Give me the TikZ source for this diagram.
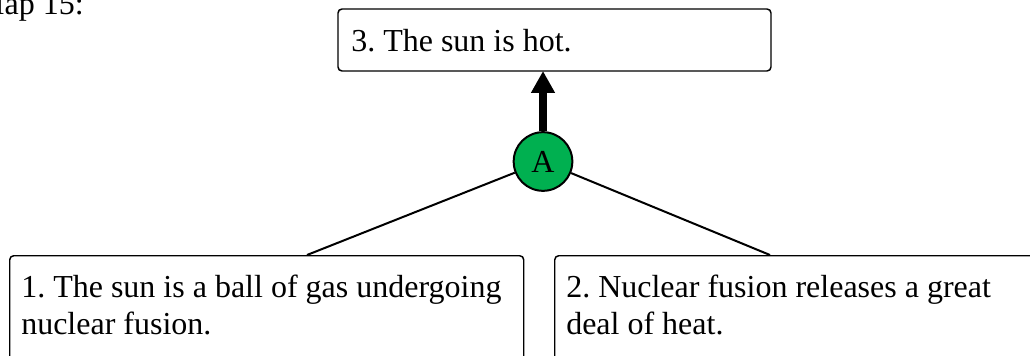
\documentclass[tikz,border=0pt]{standalone}
\usepackage{fontspec}
\setmainfont{Liberation Serif}
\usetikzlibrary{arrows.meta}
\definecolor{argreen}{HTML}{00B050}
\begin{document}
\frenchspacing
\begin{tikzpicture}[x=0.75pt,y=-0.75pt,
  claimbox/.style={draw=black, line width=1.1pt, rounded corners=3pt, inner sep=0pt},
  claimtext/.style={inner sep=0pt, font=\frenchspacing\fontsize{24}{27.75}\selectfont, align=left},
  argnode/.style={circle, draw=black, line width=1.5pt, fill=argreen, minimum size=44pt, inner sep=0pt, font=\fontsize{24}{27}\selectfont},
  link/.style={line width=1.5pt},
  support/.style={line width=5.5pt, -{Triangle[width=17pt,length=16.5pt]}}]
\useasboundingbox (0,0) rectangle (1030,356);
\clip (0,0) rectangle (1030,356);
\node[anchor=base east, inner sep=0pt, font=\fontsize{24}{27.75}\selectfont] (title) at (84,15) {Map 15:};
\node[claimbox, minimum width=324.75pt, minimum height=46.5pt] (c3) at (554.5,40) {};
\node[claimtext, anchor=base west] (t3) at (351,52) {3. The sun is hot.};
\node[claimbox, anchor=north west, minimum width=385.5pt, minimum height=110pt] (c1) at (9,255) {};
\node[claimtext, anchor=base west] (t1) at (21,334) {1. The sun is a ball of gas undergoing\\nuclear fusion.};
\node[claimbox, anchor=north west, minimum width=410pt, minimum height=110pt] (c2) at (554,255) {};
\node[claimtext, anchor=base west] (t2) at (566,334) {2. Nuclear fusion releases a great\\deal of heat.};
\node[argnode] (A) at (543,161.5) {A};
\coordinate (e1) at (307,255);
\coordinate (e2) at (770,255);
\coordinate (e3) at (543,71);
\draw[link] (A) -- (e1);
\draw[link] (A) -- (e2);
\draw[support] (A.north) -- (e3);
\end{tikzpicture}
\end{document}
